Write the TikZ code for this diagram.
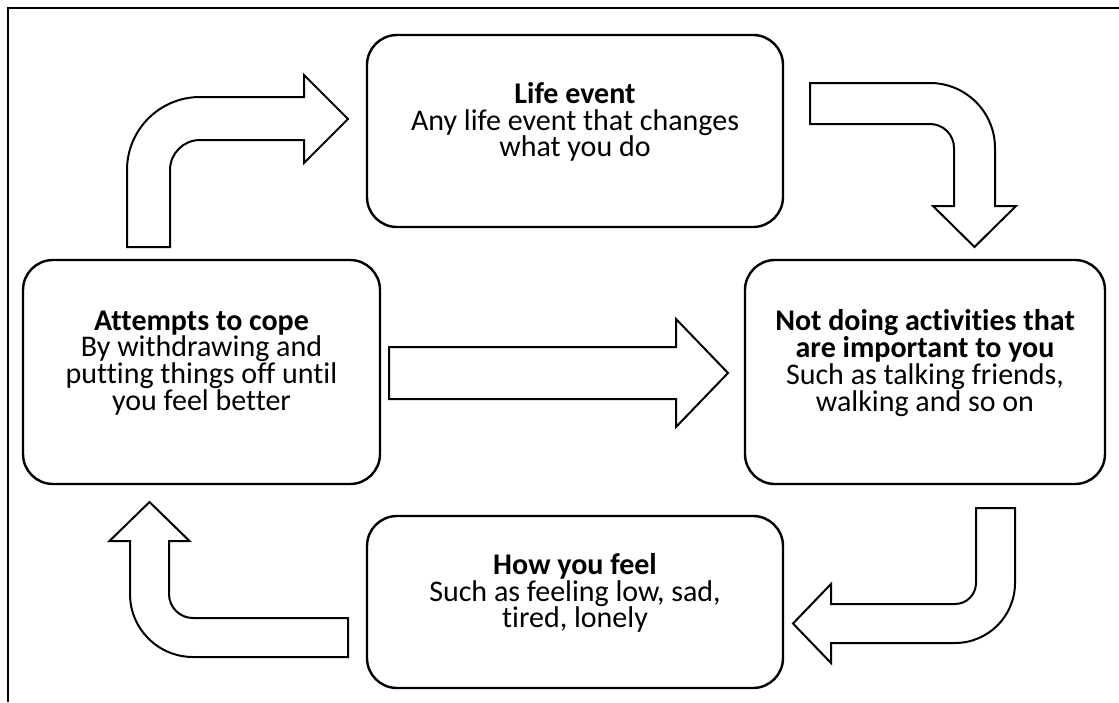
\documentclass[tikz,border=0pt]{standalone}
\usepackage{fontspec}
\setmainfont{Carlito}[Ligatures=NoCommon]
\newcommand\cardfont{\fontsize{15}{13.4}\selectfont\lineskiplimit=-100pt\relax}

\begin{document}
\begin{tikzpicture}[
                x=0.5pt, y=-0.5pt,
                card/.style={draw=black, line width=1.2pt, rounded corners=15pt},
                cardtext/.style={align=center, font=\cardfont},
                blockarrow/.style={draw=black, line width=1pt, fill=white, line join=miter}
            ]
            \useasboundingbox (0,0) rectangle (1119,702);

            % Frame
            \draw[line width=1.2pt] (8,702) -- (8,8) -- (1119,8);

            % Boxes
            \node[card, minimum width=208pt, minimum height=96pt] (life) at (575,131) {};
            \node[card, minimum width=178.5pt, minimum height=112pt] (cope) at (201.5,372) {};
            \node[card, minimum width=180pt, minimum height=112pt] (notdoing) at (925,372) {};
            \node[card, minimum width=208pt, minimum height=86pt] (feel) at (575,602) {};

            % Box texts
            \node[cardtext] (life-text) at ([yshift=4.5pt]life.center)
            {\textbf{Life event}\\Any life event that changes\\what you do};
            \node[cardtext] (cope-text) at ([yshift=4.5pt]cope.center)
            {\textbf{Attempts to cope}\\By withdrawing and\\putting things off until\\you feel better};
            \node[cardtext] (notdoing-text) at ([yshift=4.5pt]notdoing.center)
            {\textbf{Not doing activities that}\\\textbf{are important to you}\\Such as talking friends,\\walking and so on};
            \node[cardtext] (feel-text) at ([yshift=4.5pt]feel.center)
            {\textbf{How you feel}\\Such as feeling low, sad,\\tired, lonely};

            % Arrow from coping to life event
            \draw[blockarrow] (127,247) -- (127,170) arc (180:270:73) -- (304,97) -- (304,75)
            -- (348,119) -- (304,163) -- (304,140) -- (200,140) arc (270:180:30) -- (170,247) -- cycle;

            % Arrow from life event to not doing
            \draw[blockarrow] (810,83) -- (930,83) arc (270:360:65) -- (995,206) -- (1016,206)
            -- (974.5,247) -- (933,206) -- (954,206) -- (954,148) arc (0:-90:24) -- (810,124) -- cycle;

            % Arrow from coping to not doing
            \draw[blockarrow] (389,347) -- (676,347) -- (676,319) -- (728,373)
            -- (676,427) -- (676,399) -- (389,399) -- cycle;

            % Arrow from not doing to how you feel
            \draw[blockarrow] (1015,508) -- (1015,583) arc (0:90:60) -- (831,643) -- (831,663)
            -- (793,623.5) -- (831,584) -- (831,604) -- (955,604) arc (90:0:21) -- (976,508) -- cycle;

            % Arrow from how you feel to coping
            \draw[blockarrow] (348,657) -- (193,657) arc (90:180:63) -- (130,541) -- (109.5,541)
            -- (149.5,502) -- (189.5,541) -- (169,541) -- (169,594) arc (180:90:24) -- (348,618) -- cycle;

        \end{tikzpicture}
\end{document}
